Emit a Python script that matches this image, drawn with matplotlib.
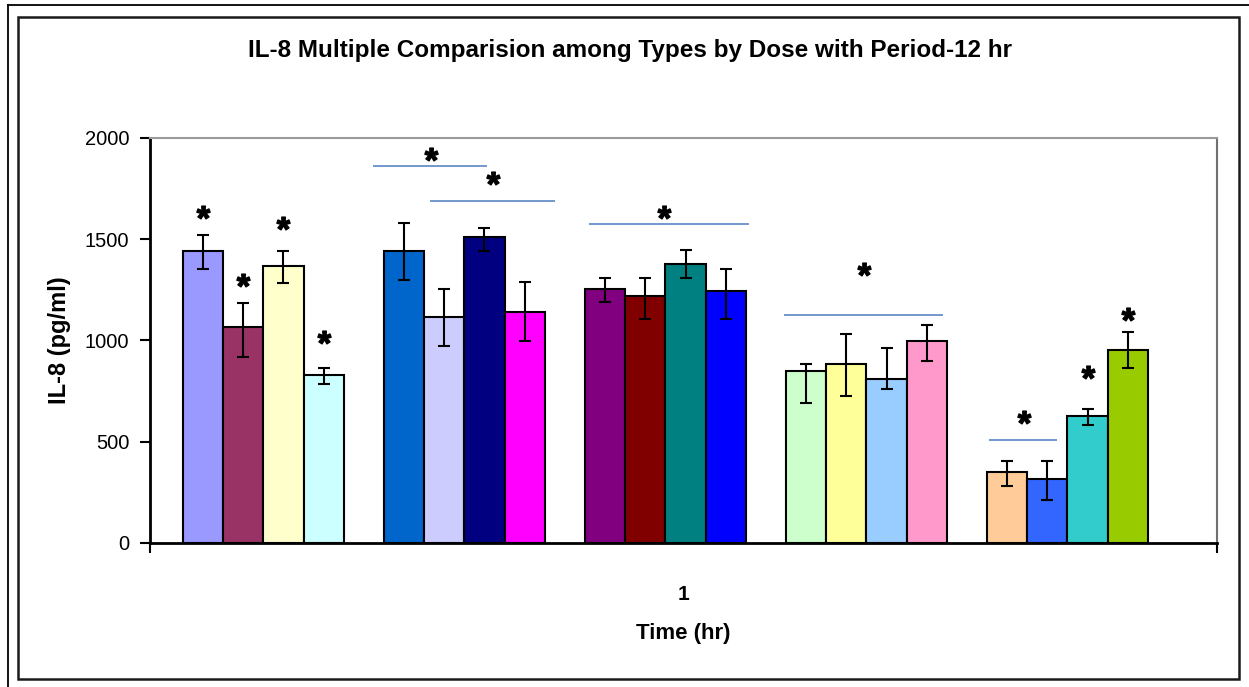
import numpy as np
import matplotlib
matplotlib.use("Agg")
import matplotlib.pyplot as plt
from matplotlib.lines import Line2D
from matplotlib.patches import Rectangle
from matplotlib.textpath import TextPath
from matplotlib.font_manager import FontProperties
from matplotlib.path import Path

plt.rcParams['font.family'] = ['Liberation Sans', 'DejaVu Sans']

# IL-8 means (pg/ml), 5 groups x 4 types
values = [1443, 1065, 1368, 830,
          1443, 1117, 1512, 1140,
          1252, 1221, 1377, 1242,
          850, 885, 808, 997,
          349, 314, 628, 952]
err_high = [79, 122, 75, 32,
            135, 135, 43, 147,
            59, 90, 68, 111,
            35, 145, 155, 78,
            54, 89, 35, 89]
err_low = [88, 148, 82, 46,
           146, 145, 69, 143,
           64, 116, 68, 137,
           157, 158, 46, 100,
           69, 100, 46, 90]
colors = ['#9999FF', '#993366', '#FFFFCC', '#CCFFFF',
          '#0066CC', '#CCCCFF', '#000080', '#FF00FF',
          '#800080', '#800000', '#008080', '#0000FF',
          '#CCFFCC', '#FFFF99', '#99CCFF', '#FF99CC',
          '#FFCC99', '#3366FF', '#33CCCC', '#99CC00']
bars_per_group = 4
n_groups = 5

# significance marks over single bars: (bar index, height)
bar_stars = [(0, 1634), (1, 1297), (2, 1581), (3, 1017), (18, 845), (19, 1133)]
# comparison lines: (x start, x end, line height, star x, star height)
brackets = [(4.73, 7.56, 1861, 6.16, 1922),
            (6.14, 9.25, 1690, 7.70, 1804),
            (10.10, 14.08, 1577, 11.97, 1634),
            (14.95, 18.91, 1125, 16.94, 1355),
            (20.05, 21.74, 508, 20.92, 620)]

title = 'IL-8 Multiple Comparision among Types by Dose with Period-12 hr'
ylabel = 'IL-8 (pg/ml)'
xlabel = 'Time (hr)'
category = '1'
yticks = [0, 500, 1000, 1500, 2000]

fig = plt.figure(figsize=(12.49, 6.87), dpi=100)
W, H = 1249, 687

# frames around the chart
fig.add_artist(Line2D([8 / W, 8 / W], [0, 1 - 5 / H], transform=fig.transFigure,
                      color='black', lw=1.3))
fig.add_artist(Line2D([8 / W, 1], [1 - 5 / H, 1 - 5 / H], transform=fig.transFigure,
                      color='black', lw=1.3))
fig.add_artist(Rectangle((18 / W, 1 - 679 / H), (1239 - 18) / W, (679 - 17) / H,
                         transform=fig.transFigure, fill=False,
                         edgecolor='#1a1a1a', lw=1.8))

ax = fig.add_axes([150 / W, 1 - 543 / H, (1217 - 150) / W, (543 - 138) / H])

x = np.array([g * (bars_per_group + 1) + i + 0.5
              for g in range(n_groups) for i in range(bars_per_group)])
ax.bar(x, values, width=1.0, color=colors, edgecolor='black', linewidth=1.5, zorder=2)
ax.errorbar(x, values, yerr=[err_low, err_high], fmt='none', ecolor='black',
            elinewidth=1.5, capsize=4.5, capthick=1.5, zorder=3)

# asterisk marker centred on its own outline
tp = TextPath((0, 0), '*', prop=FontProperties(family='Liberation Sans', weight='bold'))
codes = tp.codes
verts = tp.vertices.copy()
real = codes != Path.CLOSEPOLY
cx = (verts[real, 0].min() + verts[real, 0].max()) / 2
cy = (verts[real, 1].min() + verts[real, 1].max()) / 2
verts[:, 0] -= cx
verts[:, 1] -= cy
verts[~real] = 0.0
star = Path(verts, codes)

line_col = '#5B86C5'
for idx, h in bar_stars:
    ax.plot(x[idx], h, marker=star, markersize=9.5, color='black', ls='none', zorder=4)
for x0, x1, yl, sx, sy in brackets:
    ax.plot([x0, x1], [yl, yl], color=line_col, lw=1.2, zorder=4, solid_capstyle='butt')
    ax.plot(sx, sy, marker=star, markersize=9.5, color='black', ls='none', zorder=4)

ax.set_xlim(-0.82, 25.72)
ax.set_ylim(0, 2000)
ax.set_yticks(yticks)
ax.set_yticklabels([str(t) for t in yticks], fontsize=14.5)
ax.tick_params(axis='y', direction='out', length=7, width=1.5, pad=8)

xmid = sum(ax.get_xlim()) / 2
ax.set_xticks([xmid])
ax.set_xticklabels([category], fontsize=15, fontweight='bold')
ax.tick_params(axis='x', which='major', length=0, pad=30)
ax.set_xticks(list(ax.get_xlim()), minor=True)
ax.tick_params(axis='x', which='minor', direction='out', length=7, width=1.5)

for s in ('left', 'bottom'):
    ax.spines[s].set_color('black')
    ax.spines[s].set_linewidth(2)
ax.spines['top'].set_color('#9a9a9a')
ax.spines['top'].set_linewidth(1.5)
ax.spines['right'].set_color('#707070')
ax.spines['right'].set_linewidth(1.5)

ax.set_ylabel(ylabel, fontsize=17, fontweight='bold', labelpad=10)
ax.set_xlabel(xlabel, fontsize=16, fontweight='bold', labelpad=14)
fig.text(630 / W, 1 - 50 / H, title, fontsize=17.5, fontweight='bold',
         ha='center', va='center')

fig.savefig('out.png', dpi=100, facecolor='white')
